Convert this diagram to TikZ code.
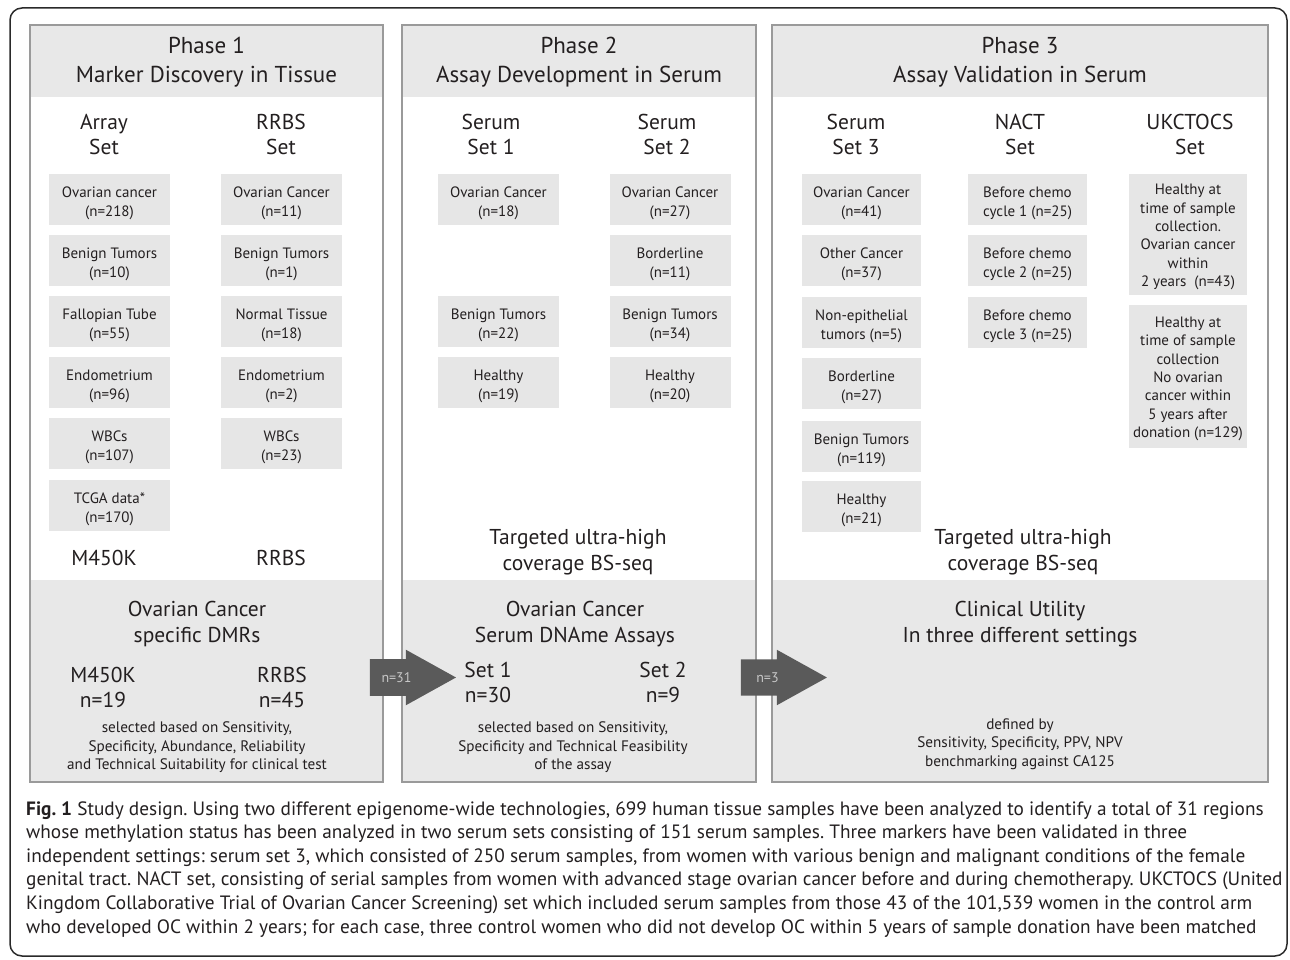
\documentclass[tikz,border=0pt]{standalone}
\usepackage{fontspec}
\setmainfont{PT Sans}
\frenchspacing
\usetikzlibrary{shapes.arrows}
\definecolor{bandgray}{HTML}{E8E8E8}
\definecolor{boxgray}{HTML}{E6E6E6}
\definecolor{edgegray}{HTML}{9A9A9A}
\definecolor{arrowgray}{HTML}{5A5A5A}
\definecolor{arrowtext}{HTML}{C8C8C8}
\definecolor{ink}{HTML}{231F20}
\definecolor{framecol}{HTML}{2A2A2A}
\newcommand\upst{\rule{0pt}{18pt}}
\newcommand\upsu{\rule{0pt}{15pt}}
\begin{document}
\begin{tikzpicture}[x=1pt,y=-1pt,
  panel/.style={draw=edgegray, line width=1.5pt},
  band/.style={fill=bandgray},
  sbox/.style={fill=boxgray, minimum width=121pt, minimum height=51pt, inner sep=0pt, align=center, anchor=north, font=\fontsize{15}{19}\selectfont, text=ink},
  ubox/.style={fill=boxgray, minimum width=118pt, inner sep=0pt, align=center, anchor=north, font=\fontsize{15}{18.3}\selectfont, text=ink},
  bigtxt/.style={align=center, font=\fontsize{21.5}{25}\selectfont, text=ink, inner sep=0pt},
  title/.style={align=center, font=\fontsize{23}{29}\selectfont, text=ink, inner sep=0pt},
  midtxt/.style={align=center, font=\fontsize{21.5}{26}\selectfont, text=ink, inner sep=0pt},
  smalltxt/.style={align=center, font=\fontsize{15.2}{18.5}\selectfont, text=ink, inner sep=0pt},
  blockarrow/.style={single arrow, fill=arrowgray, minimum height=86pt, minimum width=55pt, single arrow head extend=9.5pt, single arrow tip angle=58, inner xsep=0pt, inner ysep=13pt, text=arrowtext, font=\fontsize{14}{16}\selectfont},
  captxt/.style={anchor=base west, inner sep=0pt, font=\fontsize{19.3}{22}\selectfont, text=ink}
]
\useasboundingbox (0,0) rectangle (1290,960);
% outer frame
\draw[framecol, line width=1.5pt, rounded corners=12pt] (10,8) rectangle (1287,956);

% panels
\fill[band] (30,25) rectangle (383,97);
\fill[band] (30,580) rectangle (383,782);
\draw[panel] (30,25) rectangle (383,782);
\fill[band] (402,25) rectangle (756,97);
\fill[band] (402,580) rectangle (756,782);
\draw[panel] (402,25) rectangle (756,782);
\fill[band] (772,25) rectangle (1268,97);
\fill[band] (772,580) rectangle (1268,782);
\draw[panel] (772,25) rectangle (1268,782);

% titles
\node[title] (t1) at (206.5,62) {Phase 1\\Marker Discovery in Tissue};
\node[title] (t2) at (579,62) {Phase 2\\Assay Development in Serum};
\node[title] (t3) at (1020,62) {Phase 3\\Assay Validation in Serum};

% column headers
\node[bigtxt] (h11) at (104,134) {Array\\Set};
\node[bigtxt] (h12) at (281,134) {RRBS\\Set};
\node[bigtxt] (h21) at (491,134) {Serum\\Set 1};
\node[bigtxt] (h22) at (667,134) {Serum\\Set 2};
\node[bigtxt] (h31) at (856,134) {Serum\\Set 3};
\node[bigtxt] (h32) at (1020,134) {NACT\\Set};
\node[bigtxt] (h33) at (1190,134) {UKCTOCS\\Set};

% phase 1 boxes
\node[sbox] (a1) at (109.5,174) {\upst Ovarian cancer\\(n=218)};
\node[sbox] (a2) at (109.5,235) {\upst Benign Tumors\\(n=10)};
\node[sbox] (a3) at (109.5,296) {\upst Fallopian Tube\\(n=55)};
\node[sbox] (a4) at (109.5,357) {\upst Endometrium\\(n=96)};
\node[sbox] (a5) at (109.5,418) {\upst WBCs\\(n=107)};
\node[sbox] (a6) at (109.5,480) {\upst TCGA data*\\(n=170)};
\node[sbox] (r1) at (281.5,174) {\upst Ovarian Cancer\\(n=11)};
\node[sbox] (r2) at (281.5,235) {\upst Benign Tumors\\(n=1)};
\node[sbox] (r3) at (281.5,296) {\upst Normal Tissue\\(n=18)};
\node[sbox] (r4) at (281.5,357) {\upst Endometrium\\(n=2)};
\node[sbox] (r5) at (281.5,418) {\upst WBCs\\(n=23)};
\node[bigtxt] (m1) at (104,558) {M450K};
\node[bigtxt] (m2) at (281,558) {RRBS};

% phase 2 boxes
\node[sbox] (s11) at (498.5,174) {\upst Ovarian Cancer\\(n=18)};
\node[sbox] (s12) at (498.5,296) {\upst Benign Tumors\\(n=22)};
\node[sbox] (s13) at (498.5,357) {\upst Healthy\\(n=19)};
\node[sbox] (s21) at (670,174) {\upst Ovarian Cancer\\(n=27)};
\node[sbox] (s22) at (670,235) {\upst Borderline\\(n=11)};
\node[sbox] (s23) at (670,296) {\upst Benign Tumors\\(n=34)};
\node[sbox] (s24) at (670,357) {\upst Healthy\\(n=20)};
\node[midtxt] (tg2) at (578,552) {Targeted ultra-high\\coverage BS-seq};

% phase 3 boxes
\node[sbox, minimum width=119pt] (s31) at (861.5,174) {\upst Ovarian Cancer\\(n=41)};
\node[sbox, minimum width=119pt] (s32) at (861.5,235) {\upst Other Cancer\\(n=37)};
\node[sbox, minimum width=119pt] (s33) at (861.5,297) {\upst Non-epithelial\\tumors (n=5)};
\node[sbox, minimum width=119pt] (s34) at (861.5,358) {\upst Borderline\\(n=27)};
\node[sbox, minimum width=119pt] (s35) at (861.5,421) {\upst Benign Tumors\\(n=119)};
\node[sbox, minimum width=119pt] (s36) at (861.5,481) {\upst Healthy\\(n=21)};
\node[sbox, minimum width=119pt] (n1) at (1027.5,174) {\upst Before chemo\\cycle 1 (n=25)};
\node[sbox, minimum width=119pt] (n2) at (1027.5,235) {\upst Before chemo\\cycle 2 (n=25)};
\node[sbox, minimum width=119pt] (n3) at (1027.5,297) {\upst Before chemo\\cycle 3 (n=25)};
\node[ubox, minimum height=121pt] (u1) at (1188,174) {\upsu Healthy at\\time of sample\\collection.\\Ovarian cancer\\within\\2 years\ \ (n=43)};
\node[ubox, minimum height=143pt] (u2) at (1188,305) {\upsu Healthy at\\time of sample\\collection\\No ovarian\\cancer within\\5 years after\\donation (n=129)};
\node[midtxt] (tg3) at (1023,552) {Targeted ultra-high\\coverage BS-seq};

% bottom sections
\node[midtxt] (b1) at (197,624) {Ovarian Cancer\\specific DMRs};
\node[bigtxt] (b1l) at (103,687) {M450K\\n=19};
\node[bigtxt] (b1r) at (282,687) {RRBS\\n=45};
\node[smalltxt] (b1s) at (197,747.5) {selected based on Sensitivity,\\Specificity, Abundance, Reliability\\and Technical Suitability for clinical test};

\node[midtxt] (b2) at (575,624) {Ovarian Cancer\\Serum DNAme Assays};
\node[bigtxt] (b2l) at (488,682) {Set 1\\n=30};
\node[bigtxt] (b2r) at (663,682) {Set 2\\n=9};
\node[smalltxt] (b2s) at (573,747.5) {selected based on Sensitivity,\\Specificity and Technical Feasibility\\of the assay};

\node[midtxt] (b3) at (1020,624) {Clinical Utility\\In three different settings};
\node[smalltxt] (b3s) at (1020,744) {defined by\\Sensitivity, Specificity, PPV, NPV\\benchmarking against CA125};

% block arrows
\node[blockarrow] (ar1) at (396.5,677.5) {n=31};
\node[blockarrow] (ar2) at (767.5,677.5) {n=3};

% caption
\node[captxt] (c1) at (26,815) {\textbf{Fig. 1} Study design. Using two different epigenome-wide technologies, 699 human tissue samples have been analyzed to identify a total of 31 regions};
\node[captxt] (c2) at (26,838.6) {whose methylation status has been analyzed in two serum sets consisting of 151 serum samples. Three markers have been validated in three};
\node[captxt] (c3) at (26,862.2) {independent settings: serum set 3, which consisted of 250 serum samples, from women with various benign and malignant conditions of the female};
\node[captxt] (c4) at (26,885.8) {genital tract. NACT set, consisting of serial samples from women with advanced stage ovarian cancer before and during chemotherapy. UKCTOCS (United};
\node[captxt] (c5) at (26,909.4) {Kingdom Collaborative Trial of Ovarian Cancer Screening) set which included serum samples from those 43 of the 101,539 women in the control arm};
\node[captxt] (c6) at (26,933) {who developed OC within 2 years; for each case, three control women who did not develop OC within 5 years of sample donation have been matched};
\end{tikzpicture}
\end{document}
